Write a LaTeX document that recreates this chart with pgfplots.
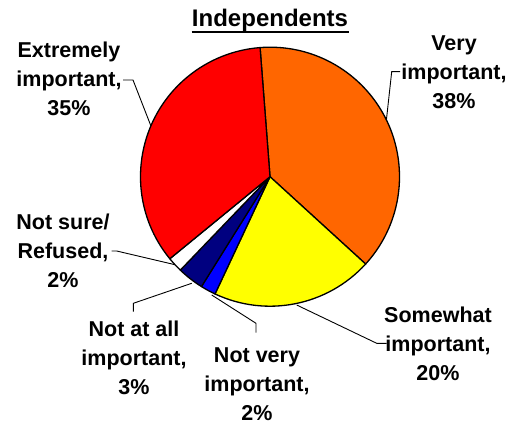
\documentclass[border=0pt]{standalone}
\usepackage{pgfplots}
\usepackage{pgfplotstable}
\pgfplotsset{compat=1.18}
\usepackage{fontspec}
\setmainfont{Liberation Sans}
\definecolor{cOrange}{HTML}{FF6600}
\definecolor{cYellow}{HTML}{FFFF00}
\definecolor{cBlue}{HTML}{0000FF}
\definecolor{cNavy}{HTML}{000080}
\definecolor{cRed}{HTML}{FF0000}
\pgfplotstableread{
name value color
VeryImportant 38.0 cOrange
Somewhat 20.2 cYellow
NotVery 1.9 cBlue
NotAtAll 3.3 cNavy
NotSure 1.9 white
Extremely 34.7 cRed
}\piedata
\begin{document}
\begin{tikzpicture}
\path[use as bounding box] (0,0) rectangle (508pt,424pt);
\begin{axis}[x=1pt,y=1pt,xmin=0,xmax=508,ymin=0,ymax=424,hide axis,clip=false,anchor=origin,at={(0,0)}]
\pgfplotsextra{
 \xdef\curA{94.4}
 \foreach \i in {0,...,5}{
   \pgfplotstablegetelem{\i}{value}\of\piedata
   \let\pv\pgfplotsretval
   \pgfplotstablegetelem{\i}{color}\of\piedata
   \let\pc\pgfplotsretval
   \pgfmathsetmacro\endA{\curA-3.6*\pv}
   \filldraw[fill=\pc,draw=black,line width=1.3pt,line join=round] (axis cs:270,247.3) -- ++(\curA:129.5pt) arc[start angle=\curA,end angle=\endA,radius=129.5pt] -- cycle;
   \xdef\curA{\endA}
 }
}
% leader lines
\draw[line width=0.9pt] (axis cs:123,344) -- (axis cs:133,344) -- (axis cs:150.9,298.1);
\draw[line width=0.9pt] (axis cs:400,352.3) -- (axis cs:391.7,352.3) -- (axis cs:386.4,304.1);
\draw[line width=0.9pt] (axis cs:386.7,80.7) -- (axis cs:376.7,80.7) -- (axis cs:296.7,119);
\draw[line width=0.9pt] (axis cs:256,91.3) -- (axis cs:256,100.7) -- (axis cs:211.7,129);
\draw[line width=0.9pt] (axis cs:133.3,112.3) -- (axis cs:133.3,120.7) -- (axis cs:191.7,140.7);
\draw[line width=0.9pt] (axis cs:111.7,173) -- (axis cs:116.7,173) -- (axis cs:175,159.3);
% labels
\tikzset{lab/.style={align=center,font=\bfseries\fontsize{21.5}{28.8}\selectfont,inner sep=0pt}}
\node[lab] at (axis cs:69,345) {Extremely\\important,\\35\%};
\node[lab] at (axis cs:454,352) {Very\\important,\\38\%};
\node[lab] at (axis cs:438,80) {Somewhat\\important,\\20\%};
\node[lab] at (axis cs:257,40) {Not very\\important,\\2\%};
\node[lab] at (axis cs:134,66) {Not at all\\important,\\3\%};
\node[lab] at (axis cs:63,173) {Not sure/\\Refused,\\2\%};
% title
\node[font=\bfseries\fontsize{24}{28}\selectfont,anchor=base,inner sep=0pt] at (axis cs:270,397) {Independents};
\draw[line width=2pt] (axis cs:191.7,391.5) -- (axis cs:349,391.5);
\end{axis}
\end{tikzpicture}
\end{document}
